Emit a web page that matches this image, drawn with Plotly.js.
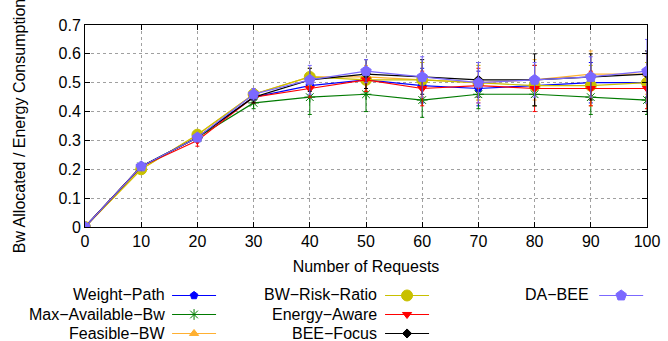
<!DOCTYPE html>
<html>
<head>
<meta charset="utf-8">
<script src="https://cdn.plot.ly/plotly-3.0.1.min.js"></script>
<style>html,body{margin:0;padding:0;background:#fff;}#chart{width:668px;height:341px;}</style>
</head>
<body>
<div id="chart"></div>
<script>
const requests = [0, 10, 20, 30, 40, 50, 60, 70, 80, 90, 100];
const seriesNames = ["Weight−Path", "Max−Available−Bw", "Feasible−BW", "BW−Risk−Ratio", "Energy−Aware", "BEE−Focus", "DA−BEE"];

const weightPath     = [0, 0.21, 0.31, 0.45, 0.49, 0.51, 0.49, 0.48, 0.49, 0.50, 0.50];
const maxAvailableBw = [0, 0.21, 0.31, 0.43, 0.45, 0.46, 0.44, 0.46, 0.46, 0.45, 0.44];
const feasibleBw     = [0, 0.20, 0.32, 0.46, 0.52, 0.52, 0.51, 0.50, 0.51, 0.53, 0.53];
const bwRiskRatio    = [0, 0.20, 0.32, 0.46, 0.52, 0.51, 0.51, 0.50, 0.49, 0.49, 0.50];
const energyAware    = [0, 0.21, 0.30, 0.45, 0.48, 0.51, 0.48, 0.49, 0.48, 0.48, 0.48];
const beeFocus       = [0, 0.21, 0.31, 0.45, 0.51, 0.53, 0.52, 0.51, 0.51, 0.52, 0.53];
const daBee          = [0, 0.21, 0.31, 0.46, 0.51, 0.54, 0.52, 0.50, 0.51, 0.52, 0.54];

const weightPathErr     = [0, 0.005, 0.01, 0.02, 0.04, 0.04, 0.06, 0.06, 0.07, 0.07, 0.07];
const maxAvailableBwErr = [0, 0.005, 0.01, 0.02, 0.06, 0.06, 0.06, 0.05, 0.04, 0.06, 0.05];
const feasibleBwErr     = [0, 0.005, 0.01, 0.02, 0.03, 0.04, 0.06, 0.06, 0.07, 0.08, 0.07];
const bwRiskRatioErr    = [0, 0.005, 0.01, 0.02, 0.03, 0.04, 0.06, 0.06, 0.07, 0.07, 0.07];
const energyAwareErr    = [0, 0.005, 0.02, 0.02, 0.03, 0.04, 0.06, 0.06, 0.08, 0.06, 0.07];
const beeFocusErr       = [0, 0.005, 0.01, 0.02, 0.04, 0.05, 0.06, 0.06, 0.09, 0.08, 0.08];
const daBeeErr          = [0, 0.005, 0.01, 0.02, 0.05, 0.04, 0.07, 0.07, 0.06, 0.07, 0.11];

const values = [weightPath, maxAvailableBw, feasibleBw, bwRiskRatio, energyAware, beeFocus, daBee];
const errors = [weightPathErr, maxAvailableBwErr, feasibleBwErr, bwRiskRatioErr, energyAwareErr, beeFocusErr, daBeeErr];

const colors  = ["#0000ff", "#007a00", "#ffb031", "#c8c000", "#ff0000", "#000000", "#7b68ff"];
const symbols = ["pentagon", "asterisk-open", "triangle-up", "circle", "triangle-down", "diamond", "pentagon"];
const sizes   = [8, 9, 8, 11, 8, 7, 11];
const legendIds = ["legend", "legend", "legend", "legend2", "legend2", "legend2", "legend3"];

const traces = seriesNames.map((n, i) => ({
  x: requests,
  y: values[i],
  type: "scatter",
  mode: "lines+markers",
  name: " ",
  legend: legendIds[i],
  line: {color: colors[i], width: 1.2},
  marker: {color: colors[i], symbol: symbols[i], size: sizes[i], line: {color: colors[i], width: 1}},
  error_y: {type: "data", array: errors[i], visible: true, color: colors[i], thickness: 1, width: 2}
}));

const font = {family: "Liberation Sans, Arial, sans-serif", size: 16, color: "#000"};

// legend label annotations (right-aligned, to the left of each sample)
const colX = [0.146, 0.524, 0.901];
const rowY = [-0.3366, -0.4307, -0.5248];
const colOf = [0, 0, 0, 1, 1, 1, 2];
const rowOf = [0, 1, 2, 0, 1, 2, 0];
const annotations = seriesNames.map((n, i) => ({
  text: n, xref: "paper", yref: "paper", x: colX[colOf[i]], y: rowY[rowOf[i]],
  xanchor: "right", yanchor: "middle", showarrow: false, font: font
}));

const legendBase = {orientation: "v", yref: "container", yanchor: "top", xanchor: "left", y: 0.176,
  bgcolor: "rgba(0,0,0,0)", font: {family: font.family, size: 10, color: "#000"}, itemwidth: 44, tracegroupgap: 0};

const layout = {
  width: 668, height: 341,
  margin: {l: 85, r: 21, t: 25, b: 114, autoexpand: false},
  paper_bgcolor: "#fff", plot_bgcolor: "#fff",
  font: font,
  showlegend: true,
  legend:  Object.assign({}, legendBase, {x: 0.146}),
  legend2: Object.assign({}, legendBase, {x: 0.525}),
  legend3: Object.assign({}, legendBase, {x: 0.906}),
  annotations: annotations,
  xaxis: {
    range: [0, 100], tickvals: requests, ticktext: requests.map(String),
    automargin: false,
    showgrid: true, gridcolor: "#a0a0a0", griddash: "dot", gridwidth: 1,
    zeroline: false, showline: true, linecolor: "#000", linewidth: 1, mirror: "ticks",
    ticks: "inside", ticklen: 5, tickcolor: "#000",
    tickfont: font,
    title: {text: "Number of Requests", font: font, standoff: 11}
  },
  yaxis: {
    range: [0, 0.7], tickvals: [0, 0.1, 0.2, 0.3, 0.4, 0.5, 0.6, 0.7],
    ticktext: ["0", "0.1", "0.2", "0.3", "0.4", "0.5", "0.6", "0.7"],
    automargin: false,
    showgrid: true, gridcolor: "#a0a0a0", griddash: "dot", gridwidth: 1,
    zeroline: false, showline: true, linecolor: "#000", linewidth: 1, mirror: "ticks",
    ticks: "inside", ticklen: 5, tickcolor: "#000",
    tickfont: font,
    title: {text: "Bw Allocated / Energy Consumption", font: font, standoff: 28}
  }
};

Plotly.newPlot("chart", traces, layout, {staticPlot: true, displayModeBar: false});
</script>
</body>
</html>
